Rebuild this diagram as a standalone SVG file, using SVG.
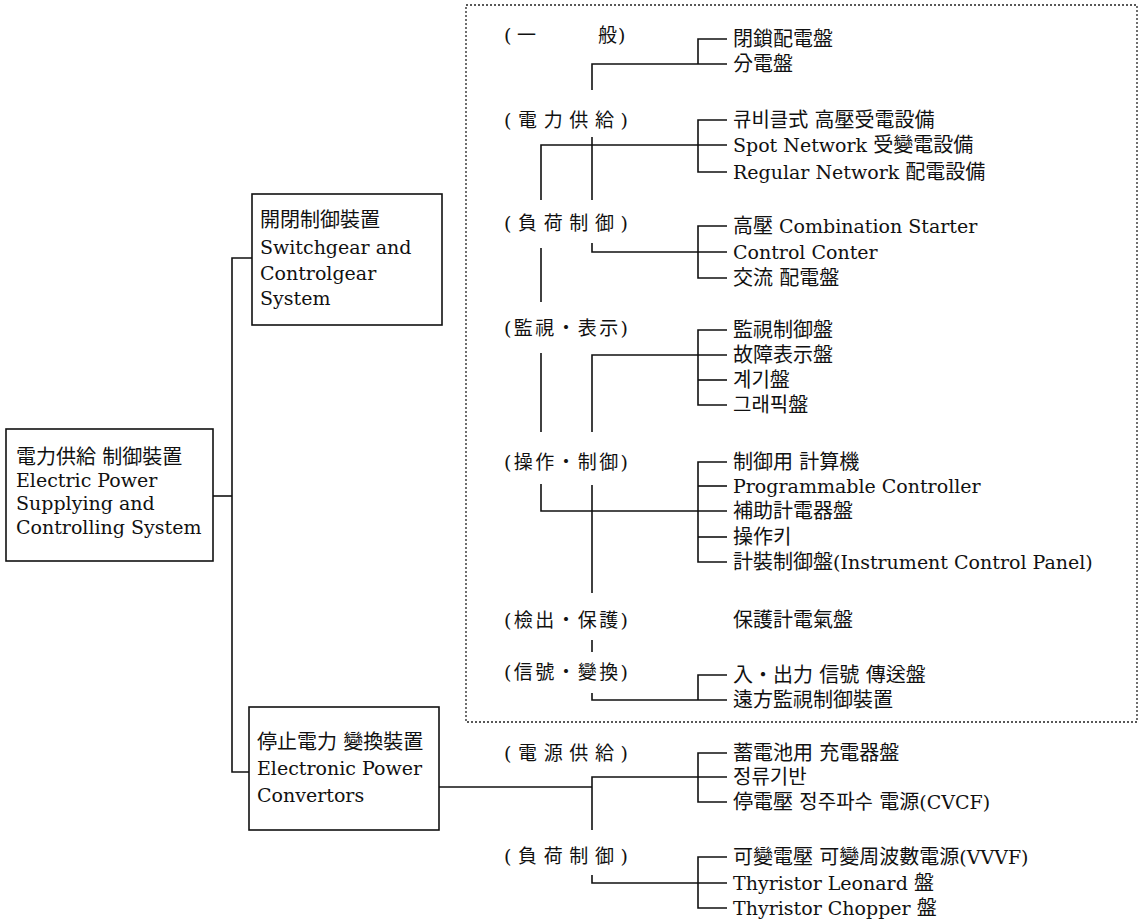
<svg xmlns="http://www.w3.org/2000/svg" width="1144" height="922" viewBox="0 0 1144 922">
<style>
text{font-family:"DejaVu Serif","Noto Sans CJK KR",serif;fill:#111;}
.t{font-size:19px;}
.c{font-size:20px;}
.lb{font-size:19px;}
.box{fill:#fff;stroke:#111;stroke-width:1.6;}
.ln{fill:none;stroke:#111;stroke-width:1.6;}
.dot{fill:none;stroke:#222;stroke-width:1.3;stroke-dasharray:2 2;}
</style>
<rect width="1144" height="922" fill="#fff"/>
<rect class="dot" x="466" y="5" width="671" height="717"/>
<g id="connectors">
<!-- left tree -->
<polyline class="ln" points="213,496 232,496"/>
<polyline class="ln" points="252,258 232,258 232,772 249,772"/>
<polyline class="ln" points="439,787 592,787"/>
<!-- group 1 -->
<polyline class="ln" points="727,39 698,39 698,64"/>
<polyline class="ln" points="592,90 592,64 727,64"/>
<!-- group 2 -->
<polyline class="ln" points="727,120 698,120 698,172 727,172"/>
<polyline class="ln" points="541,200 541,145 727,145"/>
<line class="ln" x1="592" y1="137" x2="592" y2="200"/>
<!-- group 3 -->
<polyline class="ln" points="727,226 698,226 698,278 727,278"/>
<polyline class="ln" points="592,243 592,252 727,252"/>
<line class="ln" x1="541" y1="248" x2="541" y2="302"/>
<!-- group 4 -->
<polyline class="ln" points="727,330 698,330 698,405 727,405"/>
<line class="ln" x1="698" y1="380" x2="727" y2="380"/>
<polyline class="ln" points="592,432 592,355 727,355"/>
<line class="ln" x1="541" y1="353" x2="541" y2="432"/>
<!-- group 5 -->
<polyline class="ln" points="727,462 698,462 698,562 727,562"/>
<line class="ln" x1="698" y1="486" x2="727" y2="486"/>
<line class="ln" x1="698" y1="537" x2="727" y2="537"/>
<polyline class="ln" points="541,484 541,511 727,511"/>
<line class="ln" x1="592" y1="485" x2="592" y2="593"/>
<!-- group 6 -->
<line class="ln" x1="592" y1="640" x2="592" y2="652"/>
<!-- group 7 -->
<polyline class="ln" points="727,675 698,675 698,700"/>
<polyline class="ln" points="592,693 592,700 727,700"/>
<!-- group 8 -->
<polyline class="ln" points="727,753 698,753 698,802 727,802"/>
<polyline class="ln" points="592,830 592,777 727,777"/>
<!-- group 9 -->
<polyline class="ln" points="727,857 698,857 698,908 727,908"/>
<polyline class="ln" points="592,875 592,883 727,883"/>
</g>
<g id="root">
<rect class="box" x="6" y="429" width="207" height="132"/>
<text class="t" x="16" y="464"><tspan class="c">電力供給 制御裝置</tspan></text>
<text class="t" x="16" y="487">Electric Power</text>
<text class="t" x="16" y="510">Supplying and</text>
<text class="t" x="16" y="534">Controlling System</text>
</g>
<g id="switchgear">
<rect class="box" x="252" y="194" width="190" height="131"/>
<text class="c" x="260" y="227">開閉制御裝置</text>
<text class="t" x="260" y="254">Switchgear and</text>
<text class="t" x="260" y="280">Controlgear</text>
<text class="t" x="260" y="305">System</text>
</g>
<g id="convertors">
<rect class="box" x="249" y="707" width="190" height="123"/>
<text class="c" x="257" y="749">停止電力 變換裝置</text>
<text class="t" x="257" y="775">Electronic Power</text>
<text class="t" x="257" y="802">Convertors</text>
</g>
<g id="labels">
<text class="lb" x="504 517 598 618" y="42">(一般)</text>
<text class="lb" x="504" y="127" textLength="124" lengthAdjust="spacing">(電力供給)</text>
<text class="lb" x="504" y="230" textLength="124" lengthAdjust="spacing">(負荷制御)</text>
<text class="lb" x="504" y="335" textLength="124" lengthAdjust="spacing">(監視・表示)</text>
<text class="lb" x="504" y="469" textLength="124" lengthAdjust="spacing">(操作・制御)</text>
<text class="lb" x="504" y="627" textLength="124" lengthAdjust="spacing">(檢出・保護)</text>
<text class="lb" x="504" y="679" textLength="124" lengthAdjust="spacing">(信號・變換)</text>
<text class="lb" x="504" y="760" textLength="124" lengthAdjust="spacing">(電源供給)</text>
<text class="lb" x="504" y="863" textLength="124" lengthAdjust="spacing">(負荷制御)</text>
</g>
<g id="items">
<text class="c" x="733" y="46">閉鎖配電盤</text>
<text class="c" x="733" y="71">分電盤</text>
<text class="c" x="733" y="127">큐비클式 高壓受電設備</text>
<text class="t" x="733" y="152">Spot Network <tspan class="c">受變電設備</tspan></text>
<text class="t" x="733" y="179">Regular Network <tspan class="c">配電設備</tspan></text>
<text class="t" x="733" y="233"><tspan class="c">高壓</tspan> Combination Starter</text>
<text class="t" x="733" y="259">Control Conter</text>
<text class="c" x="733" y="285">交流 配電盤</text>
<text class="c" x="733" y="337">監視制御盤</text>
<text class="c" x="733" y="362">故障表示盤</text>
<text class="c" x="733" y="387">계기盤</text>
<text class="c" x="733" y="412">그래픽盤</text>
<text class="c" x="733" y="469">制御用 計算機</text>
<text class="t" x="733" y="493">Programmable Controller</text>
<text class="c" x="733" y="518">補助計電器盤</text>
<text class="c" x="733" y="544">操作키</text>
<text class="t" x="733" y="569"><tspan class="c">計裝制御盤</tspan>(Instrument Control Panel)</text>
<text class="c" x="733" y="627">保護計電氣盤</text>
<text class="c" x="733" y="682">入・出力 信號 傳送盤</text>
<text class="c" x="733" y="707">遠方監視制御裝置</text>
<text class="c" x="733" y="760">蓄電池用 充電器盤</text>
<text class="c" x="733" y="784">정류기반</text>
<text class="t" x="733" y="809"><tspan class="c">停電壓 정주파수 電源</tspan>(CVCF)</text>
<text class="t" x="733" y="864"><tspan class="c">可變電壓 可變周波數電源</tspan>(VVVF)</text>
<text class="t" x="733" y="890">Thyristor Leonard <tspan class="c">盤</tspan></text>
<text class="t" x="733" y="915">Thyristor Chopper <tspan class="c">盤</tspan></text>
</g>
</svg>
